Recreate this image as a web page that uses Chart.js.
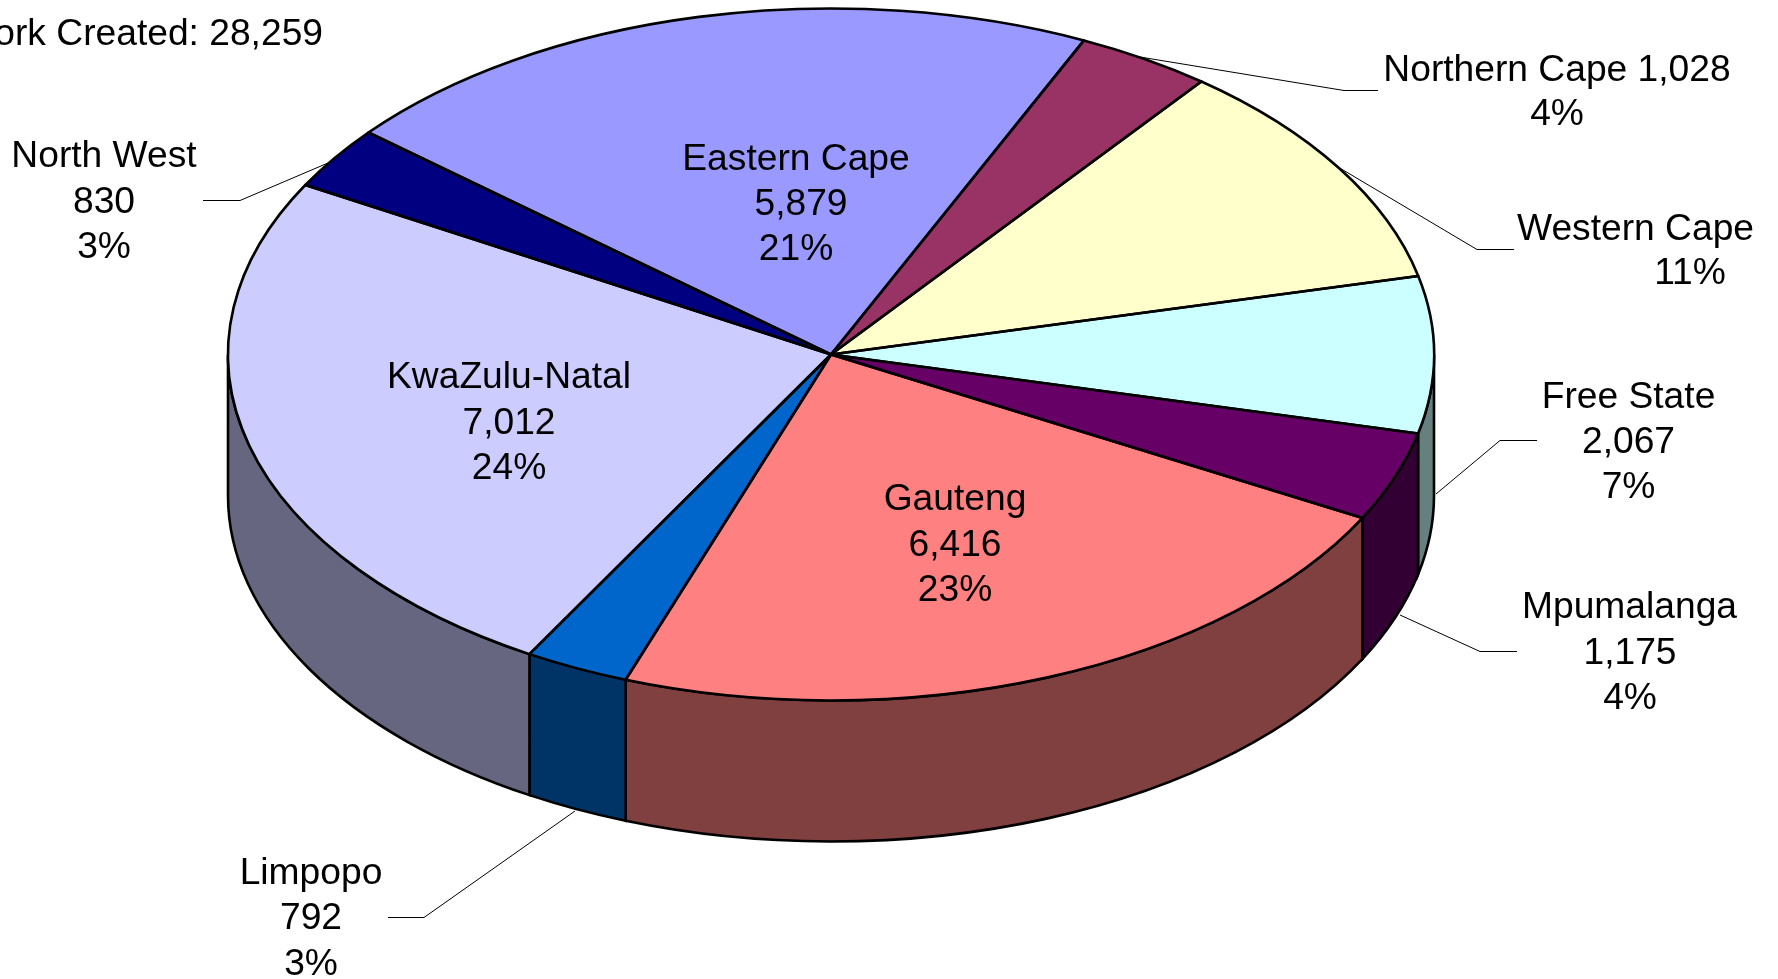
<!DOCTYPE html>
<html>
<head>
<meta charset="utf-8">
<style>
  html, body { margin: 0; padding: 0; background: #fff; overflow: hidden; }
  #pie { display: block; }
</style>
<script src="https://cdn.jsdelivr.net/npm/chart.js@4"></script>
</head>
<body>
<canvas id="pie" width="1778" height="979"></canvas>
<script>
// --- data ---
const provinces = ['Northern Cape', 'Western Cape', 'Free State', 'Mpumalanga', 'Gauteng', 'Limpopo', 'KwaZulu-Natal', 'North West', 'Eastern Cape'];
const workCreated = [1028, 3060, 2067, 1175, 6416, 792, 7012, 830, 5879];
const percentLabels = ['4%', '11%', '7%', '4%', '23%', '3%', '24%', '3%', '21%'];
const topColors = ['#993366', '#FFFFCC', '#CCFFFF', '#660066', '#FF8080', '#0066CC', '#CCCCFF', '#000080', '#9999FF'];
const sideColors = ['#4D1A33', '#808066', '#668080', '#330033', '#804040', '#003366', '#666680', '#000040', '#4D4D80'];
const titleLines = ['Total Person-Years of', 'Work Created: 28,259'];

// --- layout of the squashed pie on the page ---
const PIE = { cx: 831, cy: 354.5, rx: 603, ry: 346, depth: 141 };
const FONT = '37.2px "Liberation Sans", Arial, sans-serif';
const PEN = 2.6;

const fmt = v => v.toLocaleString('en-US');

// label text lines, x and the y of each line (x per line where lines are not centred alike)
const labelSpots = [
    { lines: ['Northern Cape 1,028', percentLabels[0]], x: 1557, y: [71, 115] },
    { lines: ['Western Cape', percentLabels[1]], x: [1517, 1690], y: [230, 274], leftFirst: true },
    { lines: [provinces[2], fmt(workCreated[2]), percentLabels[2]], x: 1628.5, y: [398, 443, 488] },
    { lines: [provinces[3], fmt(workCreated[3]), percentLabels[3]], x: [1629.5, 1630, 1630], y: [608, 654, 699] },
    { lines: [provinces[4], fmt(workCreated[4]), percentLabels[4]], x: 955, y: [500, 546, 591] },
    { lines: [provinces[5], fmt(workCreated[5]), percentLabels[5]], x: 311, y: [874, 919, 965] },
    { lines: [provinces[6], fmt(workCreated[6]), percentLabels[6]], x: 509, y: [378, 424, 469] },
    { lines: [provinces[7], fmt(workCreated[7]), percentLabels[7]], x: 104, y: [157, 203, 248] },
    { lines: [provinces[8], fmt(workCreated[8]), percentLabels[8]], x: [796, 801, 796], y: [160, 205, 250] }
];

// leader lines from the outside labels to their slices
const leaders = [
    [[1378, 90.5], [1344, 90.5], [1140, 57]],
    [[1514, 249.5], [1477, 249.5], [1338, 167]],
    [[1537, 440.5], [1500, 440.5], [1436, 494]],
    [[1517, 651.5], [1480, 651.5], [1400, 615]],
    [[388, 917.5], [424, 917.5], [575, 811]],
    [[203, 200.5], [240, 200.5], [328, 163]]
];

// the chart draws a round pie, this squashes it onto the ellipse
function applySquash(ctx, arc) {
    ctx.translate(PIE.cx, PIE.cy);
    ctx.scale(PIE.rx / arc.outerRadius, PIE.ry / arc.outerRadius);
    ctx.translate(-arc.x, -arc.y);
}

// front part of a slice, only angles between 0 and PI face the viewer
function frontRanges(a0, a1) {
    const out = [];
    for (const k of [-1, 0, 1]) {
        const s = Math.max(a0, k * 2 * Math.PI);
        const e = Math.min(a1, k * 2 * Math.PI + Math.PI);
        if (e > s) out.push([s, e]);
    }
    return out;
}

const pie3d = {
    id: 'pie3d',
    beforeDatasetsDraw(chart) {
        const ctx = chart.ctx;
        const arcs = chart.getDatasetMeta(0).data;
        // --- side walls ---
        ctx.save();
        ctx.lineWidth = PEN;
        ctx.strokeStyle = '#000';
        arcs.forEach((el, i) => {
            const arc = el.getProps(['startAngle', 'endAngle']);
            frontRanges(arc.startAngle, arc.endAngle).forEach(([s, e]) => {
                ctx.beginPath();
                ctx.ellipse(PIE.cx, PIE.cy, PIE.rx, PIE.ry, 0, s, e);
                ctx.ellipse(PIE.cx, PIE.cy + PIE.depth, PIE.rx, PIE.ry, 0, e, s, true);
                ctx.closePath();
                ctx.fillStyle = sideColors[i];
                ctx.fill();
                ctx.stroke();
            });
        });
        ctx.restore();
        // --- top face is filled by the library under this transform ---
        ctx.save();
        applySquash(ctx, arcs[0].getProps(['x', 'y', 'outerRadius']));
    },
    afterDatasetsDraw(chart) {
        const ctx = chart.ctx;
        ctx.restore();
        const arcs = chart.getDatasetMeta(0).data;

        // outlines are stroked unsquashed so the pen stays even
        ctx.save();
        ctx.lineWidth = PEN;
        ctx.lineJoin = 'round';
        ctx.strokeStyle = '#000';
        arcs.forEach(el => {
            const arc = el.getProps(['startAngle', 'endAngle']);
            ctx.beginPath();
            ctx.moveTo(PIE.cx, PIE.cy);
            ctx.ellipse(PIE.cx, PIE.cy, PIE.rx, PIE.ry, 0, arc.startAngle, arc.endAngle);
            ctx.closePath();
            ctx.stroke();
        });

        ctx.lineWidth = 1;
        ctx.strokeStyle = '#000';
        leaders.forEach(pts => {
            ctx.beginPath();
            pts.forEach(([x, y], i) => i ? ctx.lineTo(x, y) : ctx.moveTo(x, y));
            ctx.stroke();
        });

        ctx.fillStyle = '#000';
        ctx.font = FONT;
        ctx.textBaseline = 'middle';
        labelSpots.forEach(spot => {
            spot.lines.forEach((line, i) => {
                ctx.textAlign = spot.leftFirst && i === 0 ? 'left' : 'center';
                ctx.fillText(line, Array.isArray(spot.x) ? spot.x[i] : spot.x, spot.y[i]);
            });
        });

        // the title runs off the top left corner of the page
        ctx.textAlign = 'right';
        ctx.textBaseline = 'alphabetic';
        ctx.fillText(titleLines[0], 305, 0);
        ctx.fillText(titleLines[1], 323, 45);
        ctx.restore();
    }
};

new Chart(document.getElementById('pie'), {
    type: 'pie',
    data: {
        labels: provinces,
        datasets: [{
            data: workCreated,
            backgroundColor: topColors,
            borderWidth: 0
        }]
    },
    options: {
        responsive: false,
        animation: false,
        rotation: 24.8,
        plugins: { legend: { display: false }, title: { display: false }, tooltip: { enabled: false } }
    },
    plugins: [pie3d]
});
</script>
</body>
</html>
